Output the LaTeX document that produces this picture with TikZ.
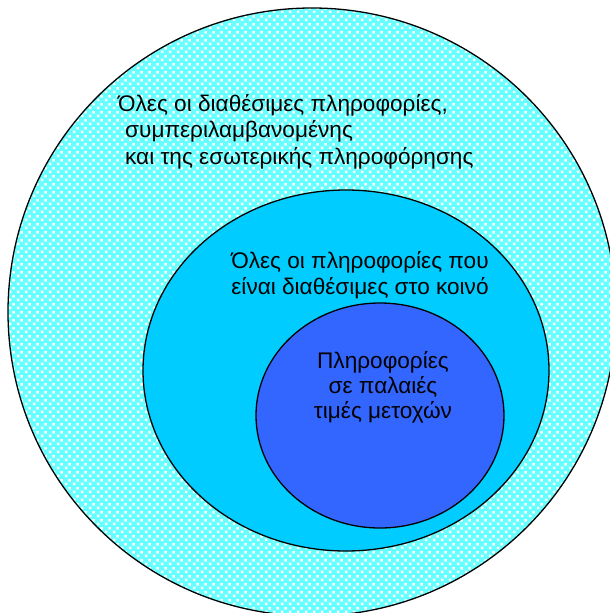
\documentclass[tikz,border=0pt]{standalone}
\usepackage{fontspec}
\setmainfont{Liberation Sans}
\usetikzlibrary{patterns}
\pgfdeclarepatternformonly{whitedots}{\pgfpointorigin}{\pgfpoint{8pt}{8pt}}{\pgfpoint{8pt}{8pt}}{%
  \pgfpathrectangle{\pgfpoint{1pt}{1pt}}{\pgfpoint{2.8pt}{2.8pt}}%
  \pgfpathrectangle{\pgfpoint{5pt}{5pt}}{\pgfpoint{2.8pt}{2.8pt}}%
  \pgfusepath{fill}}
\definecolor{outerc}{HTML}{66FFFF}
\definecolor{midc}{HTML}{00CCFF}
\definecolor{innerc}{HTML}{3366FF}
\tikzset{
  ring/.style={draw=black, line width=1.3pt},
  lbl/.style={inner sep=0pt, font=\fontsize{22.6}{27}\selectfont, text=black},
}
\begin{document}
\begin{tikzpicture}[x=1pt,y=-1pt]
\useasboundingbox (0,0) rectangle (610,613);
\begin{scope}
\clip (0,0) rectangle (610,613);
\fill[outerc] (312,312) circle[radius=304];
\fill[pattern=whitedots, pattern color=white] (312,312) circle[radius=304];
\draw[ring] (312,312) circle[radius=304];
\end{scope}
\draw[ring, fill=midc] (346,370.5) ellipse[x radius=203, y radius=180.5];
\draw[ring, fill=innerc] (380,415.5) ellipse[x radius=124, y radius=112.5];
% outer text
\node[lbl, anchor=base west] (o1) at (118,111) {Όλες οι διαθέσιμες πληροφορίες,};
\node[lbl, anchor=base west] (o2) at (125,137) {συμπεριλαμβανομένης};
\node[lbl, anchor=base west] (o3) at (125,164) {και της εσωτερικής πληροφόρησης};
% middle text
\node[lbl, anchor=base] (m1) at (360,268) {Όλες οι πληροφορίες που};
\node[lbl, anchor=base] (m2) at (360,294) {είναι διαθέσιμες στο κοινό};
% inner text
\node[lbl, anchor=base] (i1) at (383,368) {Πληροφορίες};
\node[lbl, anchor=base] (i2) at (383,393) {σε παλαιές};
\node[lbl, anchor=base] (i3) at (383,418) {τιμές μετοχών};
\end{tikzpicture}
\end{document}
